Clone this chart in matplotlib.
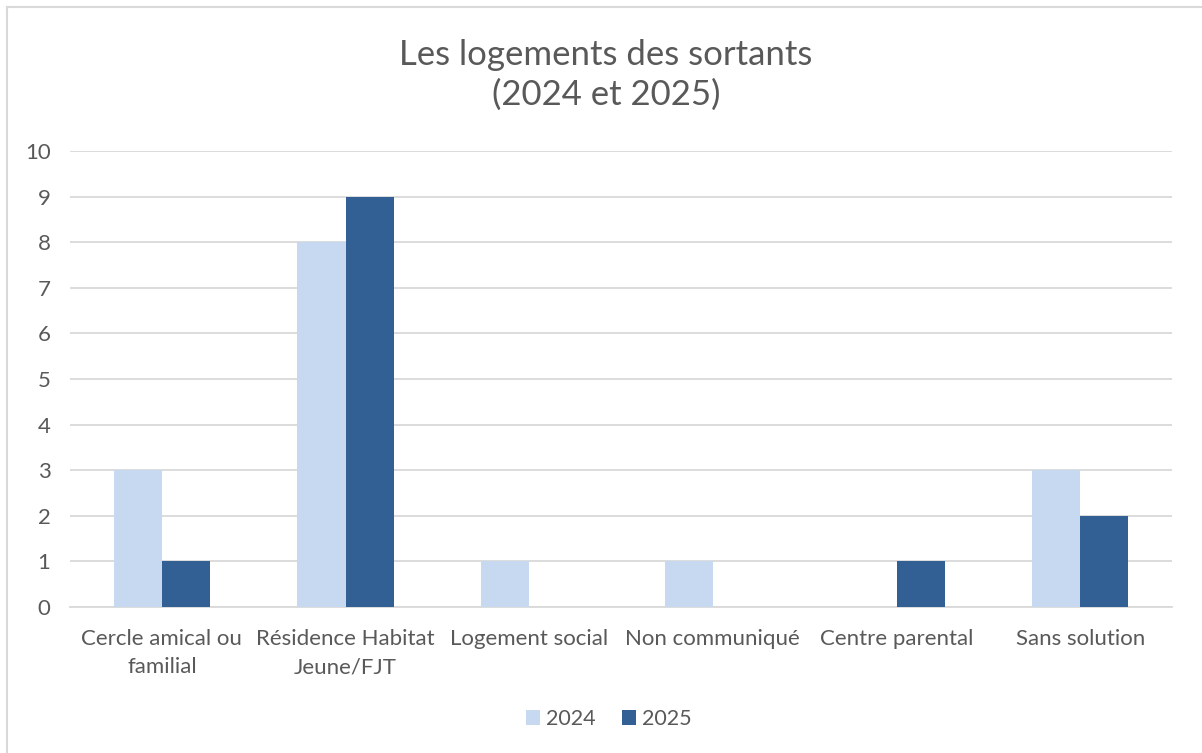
import matplotlib
matplotlib.use('Agg')
import matplotlib.pyplot as plt
import numpy as np
from matplotlib.lines import Line2D

categories = ['Cercle amical ou\nfamilial', 'Résidence Habitat\nJeune/FJT', 'Logement social',
              'Non communiqué', 'Centre parental', 'Sans solution']
years = ['2024', '2025']
v2024 = [3, 8, 1, 1, 0, 3]
v2025 = [1, 9, 0, 0, 1, 2]
colors = ['#C6D9F0', '#336094']

plt.rcParams['font.family'] = ['Lato', 'DejaVu Sans']
text_col = '#595959'

fig = plt.figure(figsize=(12.02, 7.53), dpi=100)
ax = fig.add_axes([70/1202, 1-607/753, 1102/1202, 456/753])

x = np.arange(len(categories))
w = 0.262
ax.bar(x - w/2, v2024, w, color=colors[0], label=years[0], zorder=3)
ax.bar(x + w/2, v2025, w, color=colors[1], label=years[1], zorder=3)

ax.set_xlim(-0.5, len(categories) - 0.5)
ax.set_ylim(0, 10)
ax.set_yticks(range(0, 11))
ax.yaxis.grid(True, color='#D9D9D9', linewidth=1.3, zorder=0)
ax.set_xticks(x)
ax.set_xticklabels(categories, fontsize=16, color=text_col, linespacing=1.5)
ax.tick_params(axis='y', labelsize=16, labelcolor=text_col, length=0, pad=14)
ax.tick_params(axis='x', length=0, pad=16)
for s in ['top', 'right', 'left']:
    ax.spines[s].set_visible(False)
ax.spines['bottom'].set_color('#D9D9D9')
ax.spines['bottom'].set_linewidth(1.3)

fig.text(606/1202, 1-75/753, 'Les logements des sortants\n(2024 et 2025)', ha='center', va='center',
         fontsize=25, color=text_col, linespacing=1.3)

fig.legend(loc='center', bbox_to_anchor=(609/1202, 1-719/753), ncol=2, frameon=False,
           fontsize=15.5, labelcolor=text_col, handlelength=0.65, handleheight=0.65,
           handletextpad=0.3, columnspacing=1.2)

# chart frame (partly cropped)
fig.add_artist(Line2D([7/1202, 7/1202], [0, 1-7/753], transform=fig.transFigure, color='#D9D9D9', lw=1.5))
fig.add_artist(Line2D([7/1202, 1], [1-7/753, 1-7/753], transform=fig.transFigure, color='#D9D9D9', lw=1.5))

fig.savefig('out.png', dpi=100)
